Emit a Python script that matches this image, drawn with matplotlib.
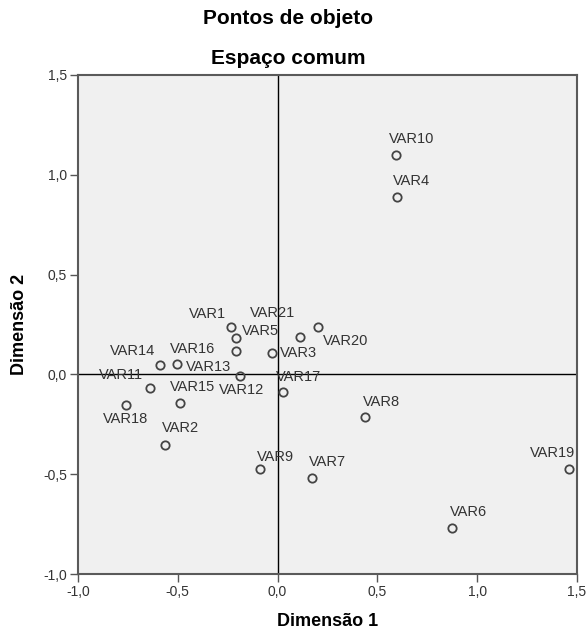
import matplotlib
matplotlib.use('Agg')
import matplotlib.pyplot as plt
import numpy as np

plt.rcParams['font.family'] = ['Liberation Sans', 'DejaVu Sans']

# coordenadas dos objetos
names = ['VAR%d' % k for k in range(1, 22)]
dim1 = [-0.233, -0.563, -0.027, 0.597, -0.207, 0.874, 0.174, 0.438, -0.088, 0.593,
        -0.638, -0.190, -0.208, -0.589, -0.489, -0.504, 0.029, -0.761, 1.462, 0.204, 0.112]
dim2 = [0.239, -0.355, 0.106, 0.888, 0.181, -0.771, -0.519, -0.211, -0.475, 1.100,
        -0.068, -0.009, 0.118, 0.046, -0.143, 0.054, -0.086, -0.153, -0.473, 0.238, 0.188]

ticks = [-1.0, -0.5, 0.0, 0.5, 1.0, 1.5]
tick_labels = ['-1,0', '-0,5', '0,0', '0,5', '1,0', '1,5']

# deslocamento dos rotulos em pixels (dx, dy para baixo)
offsets = {
    'VAR1': (-24, -13), 'VAR2': (15, -17), 'VAR3': (26, 0), 'VAR4': (15, -16),
    'VAR5': (24, -7), 'VAR6': (16, -16), 'VAR7': (15, -16), 'VAR8': (16, -15),
    'VAR9': (15, -12), 'VAR10': (16, -16), 'VAR11': (-29, -13), 'VAR12': (2, 14),
    'VAR13': (-28, 16), 'VAR14': (-27, -14), 'VAR15': (13, -16), 'VAR16': (16, -15),
    'VAR17': (15, -15), 'VAR18': (0, 14), 'VAR19': (-17, -16), 'VAR20': (27, 14),
    'VAR21': (-27, -24),
}

fig = plt.figure(figsize=(5.86, 6.34), dpi=100)
ax = fig.add_axes([78/586, 1-574/634, (577-78)/586, (574-75)/634])
ax.set_facecolor('#f0f0f0')

ax.axhline(0, color='black', lw=1, zorder=1)
ax.axvline(0, color='black', lw=1, zorder=1)

ax.plot(dim1, dim2, 'o', ms=6, mfc='none', mec='#444444', mew=1.3, zorder=3)
for n, x, y in zip(names, dim1, dim2):
    dx, dy = offsets[n]
    ax.annotate(n, (x, y), xytext=(dx, -dy), textcoords='offset pixels',
                ha='center', va='center', fontsize=10.5, color='#333333')

ax.set_xlim(-1.0, 1.5)
ax.set_ylim(-1.0, 1.5)
ax.set_xticks(ticks)
ax.set_xticklabels(tick_labels)
ax.set_yticks(ticks)
ax.set_yticklabels(tick_labels)
ax.tick_params(length=6, width=1, color='#555555', labelcolor='#333333',
               labelsize=10, pad=2)
for s in ax.spines.values():
    s.set_color('#5a5a5a')
    s.set_linewidth(1.5)

fig.text(288/586, 1-19/634, 'Pontos de objeto', ha='center', va='center',
         fontsize=15, fontweight='bold')
fig.text(288/586, 1-58/634, 'Espaço comum', ha='center', va='center',
         fontsize=15, fontweight='bold')
fig.text(327.5/586, 1-622/634, 'Dimensão 1', ha='center', va='center',
         fontsize=13, fontweight='bold')
fig.text(20/586, 1-324.5/634, 'Dimensão 2', ha='center', va='center',
         fontsize=13, fontweight='bold', rotation=90)

fig.savefig('out.png', dpi=100, facecolor='white')
